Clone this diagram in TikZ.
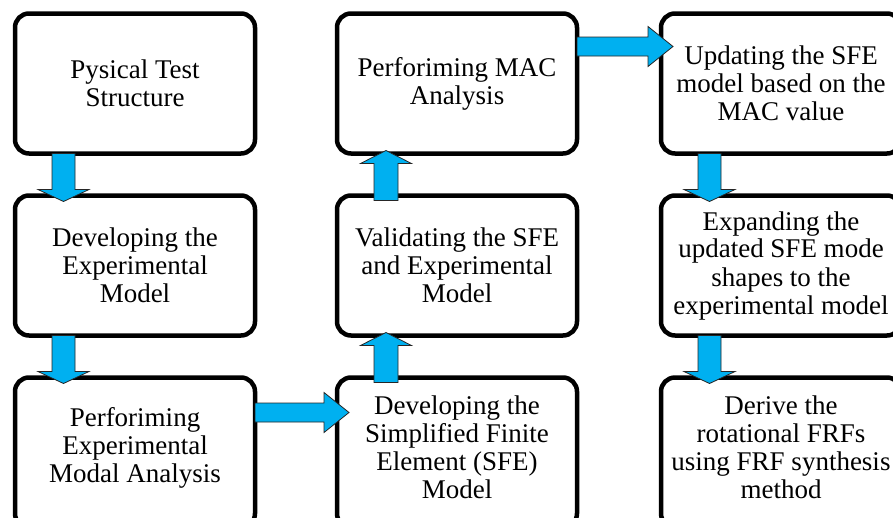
\documentclass[tikz,border=0pt]{standalone}
\usepackage{fontspec}
\setmainfont{Liberation Serif}
\usetikzlibrary{calc}
\definecolor{arrowblue}{RGB}{0,176,240}
\tikzset{
  box/.style={draw=black, line width=4.5pt, rounded corners=14pt, minimum width=240pt, minimum height=140pt, outer sep=0pt, inner sep=0pt},
  tallbox/.style={box, minimum height=150pt},
  txt/.style={align=center, font=\fontsize{27}{28}\selectfont, inner sep=0pt},
  barrow/.style={draw=black!85, line width=0.8pt, fill=arrowblue, line join=miter},
}
\newcommand{\arrowdown}[2]{%
\draw[barrow] let \p1=(#1.south), \p2=(#2.north), \p3=(#1.center) in
 (\x3-83pt,\y1) -- (\x3-60pt,\y1) -- (\x3-60pt,\y2+6pt) -- (\x3-46pt,\y2+6pt) -- (\x3-71.5pt,\y2-6pt) -- (\x3-97pt,\y2+6pt) -- (\x3-83pt,\y2+6pt) -- cycle;}
\newcommand{\arrowup}[2]{%
\draw[barrow] let \p1=(#1.north), \p2=(#2.south), \p3=(#1.center) in
 (\x3-83pt,\y1-5pt) -- (\x3-59pt,\y1-5pt) -- (\x3-59pt,\y2-10pt) -- (\x3-45.5pt,\y2-10pt) -- (\x3-71pt,\y2+3pt) -- (\x3-96.5pt,\y2-10pt) -- (\x3-83pt,\y2-10pt) -- cycle;}
\newcommand{\arrowright}[3]{%
\draw[barrow] let \p1=(#1.east), \p2=(#2.west), \p3=(#1.north) in
 (\x1,\y3-#3+9.5pt) -- (\x2-13pt,\y3-#3+9.5pt) -- (\x2-13pt,\y3-#3+20pt) -- (\x2+12pt,\y3-#3) -- (\x2-13pt,\y3-#3-20pt) -- (\x2-13pt,\y3-#3-9.5pt) -- (\x1,\y3-#3-9.5pt) -- cycle;}
\begin{document}
\begin{tikzpicture}[x=1pt,y=-1pt]
\useasboundingbox (0,0) rectangle (893,517);
\clip (0,0) rectangle (893,517);
\fill[white] (0,0) rectangle (893,517);
% column 1
\node[box, txt] (A1) at (135,83.5) {Pysical Test\\Structure};
\node[box, txt] (A2) at (135,265.5) {Developing the\\Experimental\\Model};
\node[tallbox] (A3) at (135,452.5) {};
\node[txt] (tA3) at (135,447.5) {Perforiming\\Experimental\\Modal Analysis};
% column 2
\node[box, txt] (B1) at (457,83.5) {Perforiming MAC\\Analysis};
\node[box, txt] (B2) at (457,265.5) {Validating the SFE\\and Experimental\\Model};
\node[tallbox] (B3) at (457,452.5) {};
\node[txt] (tB3) at (457,447.5) {Developing the\\Simplified Finite\\Element (SFE)\\Model};
% column 3
\node[box, txt] (C1) at (781,83.5) {Updating the SFE\\model based on the\\MAC value};
\node[box, txt] (C2) at (781,265.5) {Expanding the\\updated SFE mode\\shapes to the\\experimental model};
\node[tallbox] (C3) at (781,452.5) {};
\node[txt] (tC3) at (781,447.5) {Derive the\\rotational FRFs\\using FRF synthesis\\method};
% arrows
\arrowdown{A1}{A2}
\arrowdown{A2}{A3}
\arrowright{A3}{B3}{35pt}
\arrowup{B3}{B2}
\arrowup{B2}{B1}
\arrowright{B1}{C1}{33pt}
\arrowdown{C1}{C2}
\arrowdown{C2}{C3}
\end{tikzpicture}
\end{document}
